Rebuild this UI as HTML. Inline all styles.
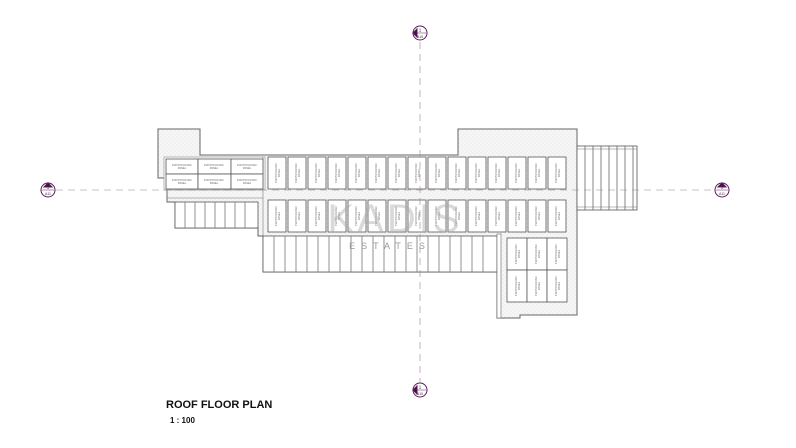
<!DOCTYPE html>
<html><head><meta charset="utf-8"><style>
html,body{margin:0;padding:0;background:#fff;}
svg{display:block;font-family:"Liberation Sans",sans-serif;}
.p rect{fill:#fff;stroke:#555;stroke-width:0.8}
.p text{font-size:2.6px;fill:#666;text-anchor:middle}
</style></head><body>
<svg width="796" height="448" viewBox="0 0 796 448" xmlns="http://www.w3.org/2000/svg">
<defs>
<pattern id="dots" width="4" height="4" patternUnits="userSpaceOnUse"><rect width="4" height="4" fill="#f6f6f6"/><circle cx="1" cy="1" r="0.4" fill="#ccc"/><circle cx="3" cy="3" r="0.4" fill="#ccc"/></pattern>
</defs>
<path d="M158 129 H200 V155 H458 V129 H577 V315 H520 V318 H497 V272 H263 V236 H258 V228 H175 V202 H167 V178 H158 Z" fill="url(#dots)" stroke="#666" stroke-width="1"/>
<rect x="164" y="157" width="101" height="33" fill="#fff" stroke="#888" stroke-width="0.6"/>
<line x1="167" y1="198" x2="263" y2="198" stroke="#777" stroke-width="0.6"/>
<line x1="263" y1="157" x2="263" y2="236" stroke="#777" stroke-width="0.6"/>
<rect x="263" y="236" width="234" height="36" fill="#fff" stroke="#555" stroke-width="0.8"/>
<rect x="497" y="234" width="4" height="84" fill="#fff" stroke="#666" stroke-width="0.6"/>
<rect x="175" y="202" width="83" height="26" fill="#fff" stroke="#555" stroke-width="0.8"/>
<g stroke="#777" stroke-width="0.8">
<line x1="185" y1="202" x2="185" y2="228"/><line x1="195" y1="202" x2="195" y2="228"/><line x1="205" y1="202" x2="205" y2="228"/><line x1="215" y1="202" x2="215" y2="228"/><line x1="225" y1="202" x2="225" y2="228"/><line x1="235" y1="202" x2="235" y2="228"/><line x1="245" y1="202" x2="245" y2="228"/>
<line x1="274" y1="236" x2="274" y2="272"/><line x1="285" y1="236" x2="285" y2="272"/><line x1="296" y1="236" x2="296" y2="272"/><line x1="307" y1="236" x2="307" y2="272"/><line x1="318" y1="236" x2="318" y2="272"/><line x1="329" y1="236" x2="329" y2="272"/><line x1="340" y1="236" x2="340" y2="272"/><line x1="351" y1="236" x2="351" y2="272"/><line x1="362" y1="236" x2="362" y2="272"/><line x1="373" y1="236" x2="373" y2="272"/><line x1="384" y1="236" x2="384" y2="272"/><line x1="395" y1="236" x2="395" y2="272"/><line x1="406" y1="236" x2="406" y2="272"/><line x1="417" y1="236" x2="417" y2="272"/><line x1="428" y1="236" x2="428" y2="272"/><line x1="439" y1="236" x2="439" y2="272"/><line x1="450" y1="236" x2="450" y2="272"/><line x1="461" y1="236" x2="461" y2="272"/><line x1="472" y1="236" x2="472" y2="272"/><line x1="483" y1="236" x2="483" y2="272"/>
</g>
<rect x="577" y="146" width="60" height="64" fill="#fff" stroke="#555" stroke-width="0.8"/>
<line x1="577" y1="149" x2="637" y2="149" stroke="#777" stroke-width="0.6"/><line x1="577" y1="207" x2="637" y2="207" stroke="#777" stroke-width="0.6"/>
<g stroke="#666" stroke-width="0.8">
<line x1="585" y1="146" x2="585" y2="210"/><line x1="593" y1="146" x2="593" y2="210"/><line x1="601" y1="146" x2="601" y2="210"/><line x1="609" y1="146" x2="609" y2="210"/><line x1="617" y1="146" x2="617" y2="210"/><line x1="625" y1="146" x2="625" y2="210"/><line x1="633" y1="146" x2="633" y2="210"/>
</g>
<g class="p">
<g transform="translate(166,159)"><rect width="32" height="15"/><text x="16" y="7">PHOTOVOLTAIC</text><text x="16" y="10">PANEL</text></g>
<g transform="translate(198,159)"><rect width="33" height="15"/><text x="16" y="7">PHOTOVOLTAIC</text><text x="16" y="10">PANEL</text></g>
<g transform="translate(231,159)"><rect width="32" height="15"/><text x="16" y="7">PHOTOVOLTAIC</text><text x="16" y="10">PANEL</text></g>
<g transform="translate(166,174)"><rect width="32" height="15"/><text x="16" y="7">PHOTOVOLTAIC</text><text x="16" y="10">PANEL</text></g>
<g transform="translate(198,174)"><rect width="33" height="15"/><text x="16" y="7">PHOTOVOLTAIC</text><text x="16" y="10">PANEL</text></g>
<g transform="translate(231,174)"><rect width="32" height="15"/><text x="16" y="7">PHOTOVOLTAIC</text><text x="16" y="10">PANEL</text></g>
</g>
<g class="p">
<g transform="translate(268,157)"><rect width="18" height="32"/><text transform="translate(9,16) rotate(-90)"><tspan x="0" y="0">PHOTOVOLTAIC</tspan><tspan x="0" y="3">PANEL</tspan></text></g>
<g transform="translate(288,157)"><rect width="18" height="32"/><text transform="translate(9,16) rotate(-90)"><tspan x="0" y="0">PHOTOVOLTAIC</tspan><tspan x="0" y="3">PANEL</tspan></text></g>
<g transform="translate(308,157)"><rect width="18" height="32"/><text transform="translate(9,16) rotate(-90)"><tspan x="0" y="0">PHOTOVOLTAIC</tspan><tspan x="0" y="3">PANEL</tspan></text></g>
<g transform="translate(328,157)"><rect width="18" height="32"/><text transform="translate(9,16) rotate(-90)"><tspan x="0" y="0">PHOTOVOLTAIC</tspan><tspan x="0" y="3">PANEL</tspan></text></g>
<g transform="translate(348,157)"><rect width="18" height="32"/><text transform="translate(9,16) rotate(-90)"><tspan x="0" y="0">PHOTOVOLTAIC</tspan><tspan x="0" y="3">PANEL</tspan></text></g>
<g transform="translate(368,157)"><rect width="18" height="32"/><text transform="translate(9,16) rotate(-90)"><tspan x="0" y="0">PHOTOVOLTAIC</tspan><tspan x="0" y="3">PANEL</tspan></text></g>
<g transform="translate(388,157)"><rect width="18" height="32"/><text transform="translate(9,16) rotate(-90)"><tspan x="0" y="0">PHOTOVOLTAIC</tspan><tspan x="0" y="3">PANEL</tspan></text></g>
<g transform="translate(408,157)"><rect width="18" height="32"/><text transform="translate(9,16) rotate(-90)"><tspan x="0" y="0">PHOTOVOLTAIC</tspan><tspan x="0" y="3">PANEL</tspan></text></g>
<g transform="translate(428,157)"><rect width="18" height="32"/><text transform="translate(9,16) rotate(-90)"><tspan x="0" y="0">PHOTOVOLTAIC</tspan><tspan x="0" y="3">PANEL</tspan></text></g>
<g transform="translate(448,157)"><rect width="18" height="32"/><text transform="translate(9,16) rotate(-90)"><tspan x="0" y="0">PHOTOVOLTAIC</tspan><tspan x="0" y="3">PANEL</tspan></text></g>
<g transform="translate(468,157)"><rect width="18" height="32"/><text transform="translate(9,16) rotate(-90)"><tspan x="0" y="0">PHOTOVOLTAIC</tspan><tspan x="0" y="3">PANEL</tspan></text></g>
<g transform="translate(488,157)"><rect width="18" height="32"/><text transform="translate(9,16) rotate(-90)"><tspan x="0" y="0">PHOTOVOLTAIC</tspan><tspan x="0" y="3">PANEL</tspan></text></g>
<g transform="translate(508,157)"><rect width="18" height="32"/><text transform="translate(9,16) rotate(-90)"><tspan x="0" y="0">PHOTOVOLTAIC</tspan><tspan x="0" y="3">PANEL</tspan></text></g>
<g transform="translate(528,157)"><rect width="18" height="32"/><text transform="translate(9,16) rotate(-90)"><tspan x="0" y="0">PHOTOVOLTAIC</tspan><tspan x="0" y="3">PANEL</tspan></text></g>
<g transform="translate(548,157)"><rect width="18" height="32"/><text transform="translate(9,16) rotate(-90)"><tspan x="0" y="0">PHOTOVOLTAIC</tspan><tspan x="0" y="3">PANEL</tspan></text></g>
</g>
<g class="p">
<g transform="translate(268,200)"><rect width="18" height="32"/><text transform="translate(9,16) rotate(-90)"><tspan x="0" y="0">PHOTOVOLTAIC</tspan><tspan x="0" y="3">PANEL</tspan></text></g>
<g transform="translate(288,200)"><rect width="18" height="32"/><text transform="translate(9,16) rotate(-90)"><tspan x="0" y="0">PHOTOVOLTAIC</tspan><tspan x="0" y="3">PANEL</tspan></text></g>
<g transform="translate(308,200)"><rect width="18" height="32"/><text transform="translate(9,16) rotate(-90)"><tspan x="0" y="0">PHOTOVOLTAIC</tspan><tspan x="0" y="3">PANEL</tspan></text></g>
<g transform="translate(328,200)"><rect width="18" height="32"/><text transform="translate(9,16) rotate(-90)"><tspan x="0" y="0">PHOTOVOLTAIC</tspan><tspan x="0" y="3">PANEL</tspan></text></g>
<g transform="translate(348,200)"><rect width="18" height="32"/><text transform="translate(9,16) rotate(-90)"><tspan x="0" y="0">PHOTOVOLTAIC</tspan><tspan x="0" y="3">PANEL</tspan></text></g>
<g transform="translate(368,200)"><rect width="18" height="32"/><text transform="translate(9,16) rotate(-90)"><tspan x="0" y="0">PHOTOVOLTAIC</tspan><tspan x="0" y="3">PANEL</tspan></text></g>
<g transform="translate(388,200)"><rect width="18" height="32"/><text transform="translate(9,16) rotate(-90)"><tspan x="0" y="0">PHOTOVOLTAIC</tspan><tspan x="0" y="3">PANEL</tspan></text></g>
<g transform="translate(408,200)"><rect width="18" height="32"/><text transform="translate(9,16) rotate(-90)"><tspan x="0" y="0">PHOTOVOLTAIC</tspan><tspan x="0" y="3">PANEL</tspan></text></g>
<g transform="translate(428,200)"><rect width="18" height="32"/><text transform="translate(9,16) rotate(-90)"><tspan x="0" y="0">PHOTOVOLTAIC</tspan><tspan x="0" y="3">PANEL</tspan></text></g>
<g transform="translate(448,200)"><rect width="18" height="32"/><text transform="translate(9,16) rotate(-90)"><tspan x="0" y="0">PHOTOVOLTAIC</tspan><tspan x="0" y="3">PANEL</tspan></text></g>
<g transform="translate(468,200)"><rect width="18" height="32"/><text transform="translate(9,16) rotate(-90)"><tspan x="0" y="0">PHOTOVOLTAIC</tspan><tspan x="0" y="3">PANEL</tspan></text></g>
<g transform="translate(488,200)"><rect width="18" height="32"/><text transform="translate(9,16) rotate(-90)"><tspan x="0" y="0">PHOTOVOLTAIC</tspan><tspan x="0" y="3">PANEL</tspan></text></g>
<g transform="translate(508,200)"><rect width="18" height="32"/><text transform="translate(9,16) rotate(-90)"><tspan x="0" y="0">PHOTOVOLTAIC</tspan><tspan x="0" y="3">PANEL</tspan></text></g>
<g transform="translate(528,200)"><rect width="18" height="32"/><text transform="translate(9,16) rotate(-90)"><tspan x="0" y="0">PHOTOVOLTAIC</tspan><tspan x="0" y="3">PANEL</tspan></text></g>
<g transform="translate(548,200)"><rect width="18" height="32"/><text transform="translate(9,16) rotate(-90)"><tspan x="0" y="0">PHOTOVOLTAIC</tspan><tspan x="0" y="3">PANEL</tspan></text></g>
</g>
<g class="p">
<g transform="translate(507,238)"><rect width="20" height="32"/><text transform="translate(10,16) rotate(-90)"><tspan x="0" y="0">PHOTOVOLTAIC</tspan><tspan x="0" y="3">PANEL</tspan></text></g>
<g transform="translate(527,238)"><rect width="20" height="32"/><text transform="translate(10,16) rotate(-90)"><tspan x="0" y="0">PHOTOVOLTAIC</tspan><tspan x="0" y="3">PANEL</tspan></text></g>
<g transform="translate(547,238)"><rect width="20" height="32"/><text transform="translate(10,16) rotate(-90)"><tspan x="0" y="0">PHOTOVOLTAIC</tspan><tspan x="0" y="3">PANEL</tspan></text></g>
<g transform="translate(507,270)"><rect width="20" height="32"/><text transform="translate(10,16) rotate(-90)"><tspan x="0" y="0">PHOTOVOLTAIC</tspan><tspan x="0" y="3">PANEL</tspan></text></g>
<g transform="translate(527,270)"><rect width="20" height="32"/><text transform="translate(10,16) rotate(-90)"><tspan x="0" y="0">PHOTOVOLTAIC</tspan><tspan x="0" y="3">PANEL</tspan></text></g>
<g transform="translate(547,270)"><rect width="20" height="32"/><text transform="translate(10,16) rotate(-90)"><tspan x="0" y="0">PHOTOVOLTAIC</tspan><tspan x="0" y="3">PANEL</tspan></text></g>
</g>
<text x="395" y="232" font-size="40" fill="#aaa" fill-opacity="0.45" text-anchor="middle" letter-spacing="3">KADIS</text>
<text x="390" y="249" font-size="9" fill="#999" text-anchor="middle" letter-spacing="6">ESTATES</text>
<g stroke="#9a859a" stroke-width="0.6" stroke-dasharray="7,5">
<line x1="420" y1="42" x2="420" y2="382"/>
<line x1="56" y1="190" x2="714" y2="190"/>
</g>
<g fill="#fff" stroke="#5a1a5a" stroke-width="1" font-size="4.5">
<g transform="translate(420,33)"><circle r="7"/><path d="M-7 0 L-3 -4 L-3 4 Z" fill="#4a0a4a"/><line x1="-6" y1="0" x2="6" y2="0" stroke-width="0.5"/><text y="-1.5" text-anchor="middle" stroke="none" fill="#333">1</text><text y="5" text-anchor="middle" stroke="none" fill="#333" font-size="3.5">A10</text></g>
<g transform="translate(420,390)"><circle r="7"/><path d="M-7 0 L-3 -4 L-3 4 Z" fill="#4a0a4a"/><line x1="-6" y1="0" x2="6" y2="0" stroke-width="0.5"/><text y="-1.5" text-anchor="middle" stroke="none" fill="#333">1</text><text y="5" text-anchor="middle" stroke="none" fill="#333" font-size="3.5">A10</text></g>
<g transform="translate(48,190)"><circle r="7"/><path d="M0 -7 L-4 -3 L4 -3 Z" fill="#4a0a4a"/><line x1="-6" y1="0" x2="6" y2="0" stroke-width="0.5"/><text y="-1.5" text-anchor="middle" stroke="none" fill="#333">1</text><text y="5" text-anchor="middle" stroke="none" fill="#333" font-size="3.5">A11</text></g>
<g transform="translate(722,190)"><circle r="7"/><path d="M0 -7 L-4 -3 L4 -3 Z" fill="#4a0a4a"/><line x1="-6" y1="0" x2="6" y2="0" stroke-width="0.5"/><text y="-1.5" text-anchor="middle" stroke="none" fill="#333">1</text><text y="5" text-anchor="middle" stroke="none" fill="#333" font-size="3.5">A11</text></g>
</g>
<text x="166" y="408" font-size="11" font-weight="bold" fill="#111">ROOF FLOOR PLAN</text>
<text x="170" y="423" font-size="8" font-weight="bold" fill="#111">1 : 100</text>
</svg>
</body></html>
